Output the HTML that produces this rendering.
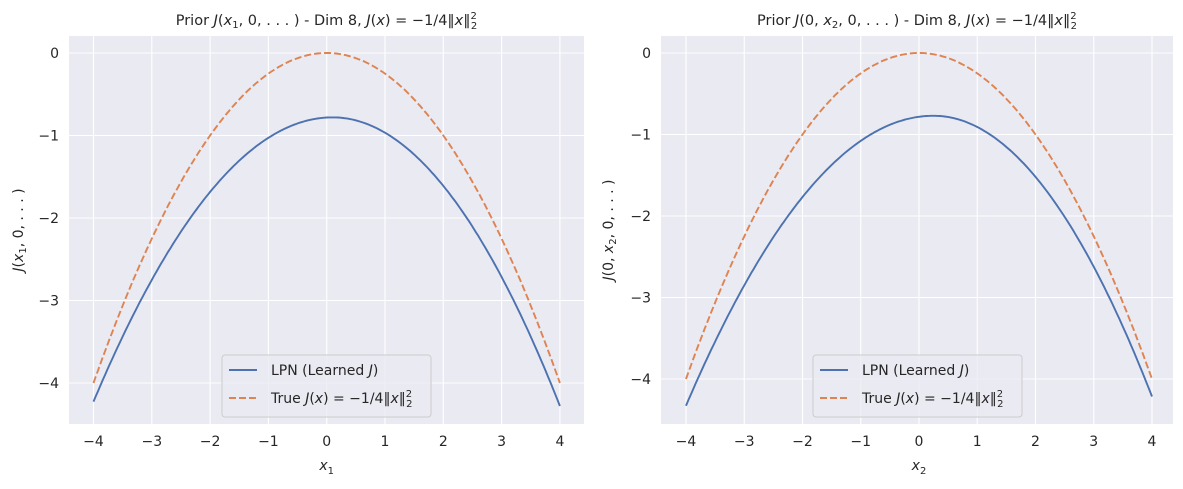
<!DOCTYPE html>
<html><head><meta charset="utf-8"><style>
body{margin:0;background:#fff}
svg text{font-family:"DejaVu Sans","Liberation Sans",sans-serif;fill:#262626}
</style></head><body>
<svg id="s" width="1183" height="484" xmlns="http://www.w3.org/2000/svg"></svg>
<script>
const s=document.getElementById('s');let h='';
function panel(o){
 const {L,R,T,B,x0,xs,y0,ys}=o;
 h+=`<rect x="${L}" y="${T}" width="${R-L}" height="${B-T}" fill="#eaeaf2"/>`;
 for(let i=-4;i<=4;i++){const x=x0+i*xs;h+=`<line x1="${x}" y1="${T}" x2="${x}" y2="${B}" stroke="#fff" stroke-width="1.1"/>`;
  h+=`<text x="${x}" y="${B+22}" font-size="14" text-anchor="middle">${i<0?'−'+(-i):i}</text>`;}
 for(let j=0;j>=-4;j--){const y=y0-j*ys;h+=`<line x1="${L}" y1="${y}" x2="${R}" y2="${y}" stroke="#fff" stroke-width="1.1"/>`;
  h+=`<text x="${L-10}" y="${y+5}" font-size="14" text-anchor="end">${j<0?'−'+(-j):j}</text>`;}
 let p='',q='';
 for(let k=0;k<=200;k++){const x=-4+8*k/200;
  const a=x<o.c?o.al:o.ar;const yb=o.pk-a*(x-o.c)*(x-o.c);const yt=-0.25*x*x;
  p+=(k?'L':'M')+(x0+x*xs).toFixed(1)+','+(y0-yb*ys).toFixed(1);
  q+=(k?'L':'M')+(x0+x*xs).toFixed(1)+','+(y0-yt*ys).toFixed(1);}
 h+=`<path d="${q}" fill="none" stroke="#dd8452" stroke-width="1.9" stroke-dasharray="7,3"/>`;
 h+=`<path d="${p}" fill="none" stroke="#4c72b0" stroke-width="1.9"/>`;
 const lx=o.lx;
 h+=`<rect x="${lx}" y="355" width="209" height="62" rx="3" fill="#eaeaf2" fill-opacity="0.8" stroke="#ccc"/>`;
 h+=`<line x1="${lx+7}" y1="370" x2="${lx+35}" y2="370" stroke="#4c72b0" stroke-width="1.9"/>`;
 h+=`<line x1="${lx+7}" y1="398" x2="${lx+35}" y2="398" stroke="#dd8452" stroke-width="1.9" stroke-dasharray="7,3"/>`;
 h+=`<text x="${lx+49}" y="375" font-size="14">LPN (Learned <tspan font-style="italic">J</tspan>)</text>`;
 h+=`<text x="${lx+49}" y="403" font-size="14">True <tspan font-style="italic">J</tspan>(<tspan font-style="italic">x</tspan>) = −1/4‖<tspan font-style="italic">x</tspan>‖<tspan font-size="10" dy="-6">2</tspan><tspan font-size="10" dx="-6" dy="10">2</tspan></text>`;
 h+=`<text x="${x0}" y="470" font-size="14" text-anchor="middle" font-style="italic">x<tspan font-size="10" dy="4" font-style="normal">${o.sub}</tspan></text>`;
 h+=`<text transform="translate(${o.yl},${(T+B)/2}) rotate(-90)" font-size="14" text-anchor="middle">${o.ylab}</text>`;
 h+=`<text x="${(L+R)/2}" y="25" font-size="14.5" text-anchor="middle">${o.title}</text>`;
}
panel({L:69,R:584,T:36,B:424,x0:326.7,xs:58.3,y0:53,ys:82.5,pk:-0.78,c:0.1,al:0.205,ar:0.23,lx:222,sub:'1',yl:23,
 ylab:'<tspan font-style="italic">J</tspan>(<tspan font-style="italic">x</tspan><tspan font-size="10" dy="3">1</tspan><tspan dy="-3">, 0, . . . )</tspan>',
 title:'Prior <tspan font-style="italic">J</tspan>(<tspan font-style="italic">x</tspan><tspan font-size="10" dy="3">1</tspan><tspan dy="-3">, 0, . . . ) - Dim 8, </tspan><tspan font-style="italic">J</tspan>(<tspan font-style="italic">x</tspan>) = −1/4‖<tspan font-style="italic">x</tspan>‖<tspan font-size="10" dy="-6">2</tspan><tspan font-size="10" dx="-6" dy="10">2</tspan>'});
panel({L:661,R:1173,T:36,B:424,x0:919,xs:58.25,y0:53,ys:81.5,pk:-0.77,c:0.25,al:0.197,ar:0.245,lx:813,sub:'2',yl:613,
 ylab:'<tspan font-style="italic">J</tspan>(0, <tspan font-style="italic">x</tspan><tspan font-size="10" dy="3">2</tspan><tspan dy="-3">, 0, . . . )</tspan>',
 title:'Prior <tspan font-style="italic">J</tspan>(0, <tspan font-style="italic">x</tspan><tspan font-size="10" dy="3">2</tspan><tspan dy="-3">, 0, . . . ) - Dim 8, </tspan><tspan font-style="italic">J</tspan>(<tspan font-style="italic">x</tspan>) = −1/4‖<tspan font-style="italic">x</tspan>‖<tspan font-size="10" dy="-6">2</tspan><tspan font-size="10" dx="-6" dy="10">2</tspan>'});
s.innerHTML=h;
</script>
</body></html>
